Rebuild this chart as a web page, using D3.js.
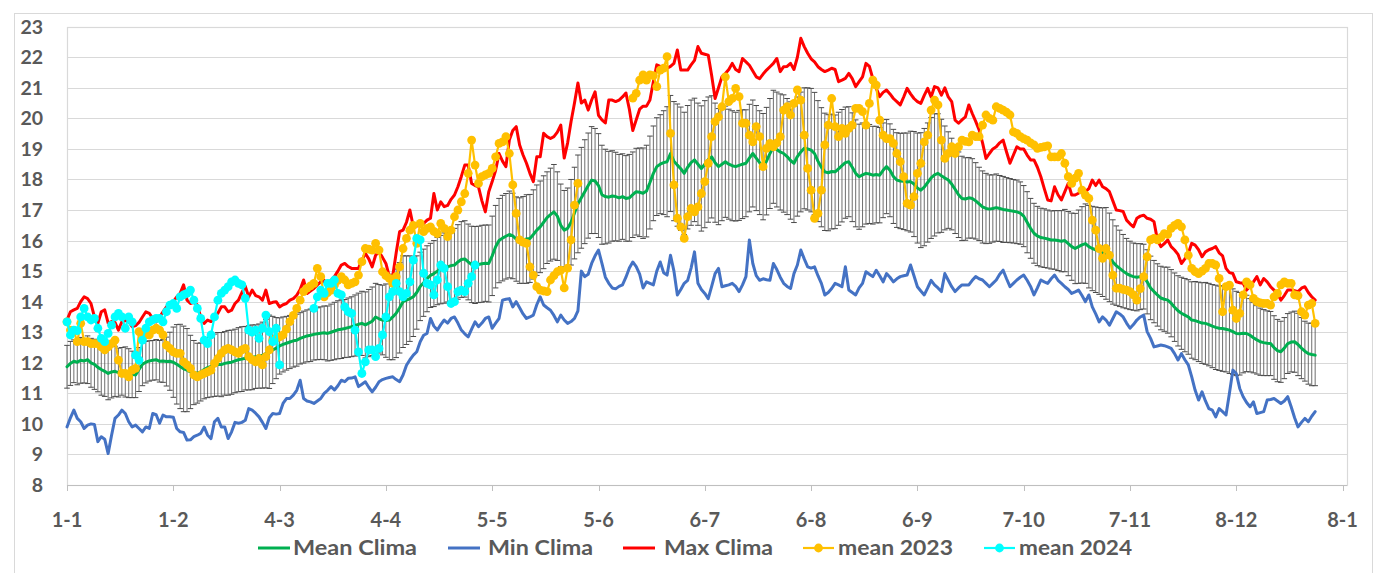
<!DOCTYPE html>
<html>
<head>
<meta charset="utf-8">
<script src="https://cdn.jsdelivr.net/npm/d3@7"></script>
<style>
  html, body { margin: 0; padding: 0; background: #fff; }
  svg { display: block; font-family: Lato, "Open Sans", sans-serif; }
</style>
</head>
<body>
<svg id="chart" width="1384" height="573"></svg>
<script>
// Daily sea temperature climatology vs 2023 / 2024, one value per day from 1 Jan

// x axis: a label every 31 days
const xTickLabels = ["1-1", "1-2", "4-3", "4-4", "5-5", "5-6", "6-7", "6-8", "6-9", "7-10", "7-11", "8-12", "8-1"]
const xTickStep = 31
const yTicks = [8, 9, 10, 11, 12, 13, 14, 15, 16, 17, 18, 19, 20, 21, 22, 23]

const seriesNames = ["Mean Clima", "Min Clima", "Max Clima", "mean 2023", "mean 2024"]

const meanClima = [
  11.87,11.98,12.05,12.02,12.08,12.06,12.10,12.00,11.95,11.85,
  11.78,11.72,11.65,11.70,11.72,11.68,11.72,11.70,11.66,11.62,
  11.60,11.78,11.95,12.02,12.06,12.08,12.10,12.05,12.06,12.04,
  12.05,12.02,11.95,11.88,11.80,11.76,11.70,11.68,11.66,11.70,
  11.78,11.84,11.88,11.92,11.95,11.94,11.98,12.00,12.02,12.06,
  12.10,12.12,12.15,12.16,12.18,12.20,12.22,12.25,12.30,12.36,
  12.42,12.48,12.55,12.60,12.64,12.68,12.72,12.74,12.80,12.84,
  12.88,12.90,12.93,12.95,12.97,12.98,12.96,13.00,13.04,13.08,
  13.10,13.12,13.15,13.18,13.22,13.26,13.29,13.24,13.30,13.36,
  13.50,13.44,13.40,13.38,13.40,13.50,13.62,13.80,14.00,14.05,
  14.10,14.16,14.30,14.50,14.62,14.75,14.86,14.92,15.00,15.05,
  15.10,15.14,15.18,15.20,15.30,15.38,15.40,15.30,15.22,15.20,
  15.22,15.24,15.26,15.25,15.50,15.80,16.00,16.08,16.14,16.20,
  16.15,16.05,16.00,16.02,16.05,16.07,16.20,16.34,16.45,16.60,
  16.75,16.85,16.94,16.80,16.50,16.34,16.40,16.60,16.90,17.20,
  17.40,17.60,17.80,17.98,17.95,17.80,17.50,17.44,17.42,17.46,
  17.44,17.40,17.44,17.38,17.40,17.50,17.60,17.58,17.55,17.62,
  17.90,18.20,18.42,18.50,18.55,18.58,18.85,18.60,18.47,18.35,
  18.20,18.40,18.55,18.64,18.50,18.36,18.50,18.65,18.74,18.55,
  18.42,18.50,18.58,18.50,18.45,18.42,18.46,18.50,18.53,18.70,
  18.85,18.70,18.55,18.42,18.60,18.85,19.07,18.98,18.90,18.85,
  18.75,18.62,18.53,18.75,18.90,19.02,19.00,18.96,18.85,18.60,
  18.40,18.25,18.22,18.26,18.25,18.35,18.45,18.55,18.58,18.40,
  18.20,18.09,18.15,18.20,18.18,18.14,18.16,18.14,18.30,18.42,
  18.30,18.10,17.98,17.95,17.94,17.92,17.93,17.85,17.72,17.65,
  17.75,17.90,18.05,18.15,18.20,18.12,18.05,17.98,17.85,17.68,
  17.50,17.38,17.36,17.40,17.38,17.30,17.20,17.10,17.05,17.03,
  17.05,17.08,17.05,17.02,17.00,16.98,16.96,16.94,16.90,16.80,
  16.60,16.40,16.24,16.15,16.10,16.08,16.05,16.02,16.02,16.00,
  15.98,16.00,15.90,15.80,15.74,15.80,15.86,15.90,15.80,15.74,
  15.70,15.66,15.62,15.58,15.45,15.30,15.18,15.09,15.00,14.92,
  14.86,14.82,14.80,14.82,14.82,14.65,14.45,14.33,14.22,14.12,
  14.08,14.05,13.95,13.82,13.70,13.62,13.56,13.50,13.40,13.38,
  13.34,13.30,13.29,13.25,13.20,13.16,13.13,13.12,13.10,13.07,
  13.02,12.96,12.95,12.97,12.96,12.90,12.82,12.75,12.69,12.66,
  12.64,12.63,12.50,12.40,12.36,12.48,12.63,12.68,12.69,12.60,
  12.48,12.38,12.30,12.27,12.25
]

// half length of the error bar on Mean Clima (standard deviation)
const stdClima = [
  0.70,0.72,0.70,0.74,0.75,0.72,0.78,0.80,0.82,0.80,
  0.84,0.82,0.86,0.85,0.82,0.80,0.78,0.82,0.80,0.76,
  0.74,0.72,0.70,0.68,0.66,0.65,0.66,0.68,0.70,0.80,
  0.95,1.15,1.30,1.38,1.40,1.36,1.20,1.05,0.98,0.95,
  0.96,0.98,1.00,1.02,1.04,1.05,1.04,1.06,1.05,1.04,
  1.05,1.06,1.04,1.05,1.06,1.04,1.05,1.08,1.12,1.20,
  1.10,1.00,0.92,0.90,0.88,0.87,0.86,0.85,0.84,0.85,
  0.85,0.86,0.84,0.85,0.86,0.88,0.90,0.92,0.94,0.95,
  0.96,0.95,0.97,0.98,1.00,1.02,1.05,1.08,1.10,1.12,
  1.10,1.12,1.14,1.20,1.30,1.40,1.45,1.48,1.50,1.45,
  1.40,1.30,1.20,1.12,1.10,1.08,1.05,1.08,1.10,1.12,
  1.15,1.15,1.18,1.20,1.22,1.24,1.25,1.24,1.25,1.26,
  1.25,1.26,1.25,1.26,1.30,1.35,1.38,1.40,1.40,1.42,
  1.40,1.38,1.40,1.42,1.45,1.44,1.46,1.48,1.50,1.52,
  1.50,1.52,1.55,1.45,1.35,1.30,1.32,1.40,1.50,1.60,
  1.65,1.70,1.72,1.75,1.72,1.70,1.62,1.55,1.50,1.48,
  1.45,1.42,1.40,1.40,1.42,1.40,1.42,1.45,1.48,1.50,
  1.52,1.55,1.60,1.62,1.70,1.80,1.90,1.95,2.00,2.02,
  2.00,2.02,2.05,2.02,2.00,2.05,2.08,2.05,2.00,1.95,
  1.90,1.85,1.82,1.80,1.80,1.78,1.80,1.78,1.75,1.76,
  1.75,1.72,1.70,1.74,1.76,1.80,1.85,1.88,1.90,1.92,
  1.90,1.92,1.94,1.95,1.96,1.98,2.00,2.02,2.00,1.98,
  1.95,1.92,1.90,1.88,1.86,1.85,1.84,1.82,1.80,1.78,
  1.75,1.72,1.70,1.66,1.62,1.60,1.58,1.56,1.55,1.54,
  1.52,1.54,1.55,1.56,1.58,1.60,1.65,1.72,1.80,1.88,
  1.92,1.95,1.98,2.00,1.95,1.85,1.70,1.58,1.50,1.45,
  1.40,1.38,1.35,1.32,1.30,1.25,1.20,1.18,1.15,1.12,
  1.10,1.10,1.08,1.08,1.06,1.05,1.04,1.04,1.02,1.00,
  1.00,0.98,0.98,0.97,0.96,0.96,0.95,0.95,0.96,0.98,
  1.00,1.02,1.05,1.10,1.15,1.20,1.25,1.30,1.35,1.38,
  1.40,1.42,1.45,1.50,1.45,1.38,1.30,1.25,1.20,1.15,
  1.12,1.10,1.10,1.08,1.06,1.05,1.04,1.02,1.02,1.04,
  1.05,1.08,1.10,1.12,1.15,1.18,1.20,1.22,1.25,1.28,
  1.30,1.32,1.34,1.35,1.36,1.38,1.38,1.40,1.40,1.42,
  1.40,1.38,1.35,1.30,1.25,1.20,1.15,1.12,1.10,1.08,
  1.06,1.05,1.04,1.02,1.00,1.00,0.98,0.98,1.00,1.02,
  1.00,0.98,1.00,1.02,1.00
]

const minClima = [
  9.90,10.20,10.45,10.18,10.07,9.85,9.96,10.00,9.98,9.42,
  9.58,9.50,9.03,9.63,10.18,10.29,10.45,10.34,10.07,9.90,
  9.96,9.85,9.74,9.90,9.85,10.34,10.30,10.02,10.29,10.23,
  10.23,10.22,9.85,9.74,9.72,9.47,9.48,9.58,9.63,9.69,
  9.90,9.63,9.52,10.07,10.18,9.90,9.90,9.52,9.74,10.05,
  10.02,10.05,10.12,10.50,10.45,10.35,10.23,10.05,9.85,10.20,
  10.34,10.32,10.34,10.67,10.83,10.83,10.94,11.10,11.43,10.83,
  10.75,10.72,10.67,10.75,10.83,11.00,11.10,11.22,11.11,11.25,
  11.43,11.38,11.49,11.50,11.54,11.22,11.30,11.38,11.20,11.05,
  11.20,11.38,11.45,11.49,11.52,11.54,11.45,11.38,11.60,11.92,
  12.10,12.25,12.36,12.69,12.90,12.96,13.45,13.20,13.07,13.25,
  13.40,13.30,13.45,13.50,13.30,13.07,12.95,12.85,13.10,13.34,
  13.18,13.30,13.45,13.50,13.13,13.30,13.45,14.05,14.08,14.10,
  13.83,14.00,13.80,13.60,13.45,13.50,13.56,13.90,14.16,13.89,
  13.80,13.72,13.55,13.34,13.56,13.40,13.29,13.35,13.45,13.70,
  15.00,14.82,14.90,15.25,15.50,15.69,15.25,14.80,14.60,14.45,
  14.42,14.50,14.55,14.80,15.10,15.30,15.15,14.90,14.45,14.65,
  14.60,14.55,15.00,15.30,14.95,14.87,15.52,15.00,14.22,14.40,
  14.60,14.70,15.10,15.63,14.60,14.40,14.27,14.10,14.50,14.92,
  15.09,14.49,14.52,14.55,14.60,14.50,14.33,14.55,14.82,16.02,
  15.25,14.85,14.70,14.75,14.72,14.70,15.25,15.05,14.80,14.60,
  14.50,14.43,14.92,15.20,15.69,15.40,15.14,15.10,15.14,14.85,
  14.60,14.22,14.30,14.43,14.60,14.55,14.49,15.14,14.38,14.30,
  14.22,14.45,14.60,14.98,14.90,14.82,15.03,14.85,14.65,14.92,
  14.80,14.65,14.75,14.82,14.85,14.87,15.20,14.85,14.49,14.35,
  14.22,14.45,14.70,14.55,14.45,14.33,14.92,14.70,14.49,14.33,
  14.45,14.55,14.55,14.55,14.70,14.82,14.75,14.71,14.60,14.49,
  14.60,14.71,14.90,15.03,14.75,14.49,14.60,14.71,14.80,14.87,
  14.70,14.50,14.22,14.45,14.71,14.65,14.60,14.75,14.87,14.70,
  14.60,14.49,14.40,14.27,14.32,14.38,14.20,14.00,14.22,13.83,
  13.60,13.34,13.50,13.40,13.23,13.45,13.67,13.60,13.50,13.30,
  13.13,13.25,13.40,13.50,13.56,13.02,12.80,12.52,12.55,12.58,
  12.56,12.52,12.47,12.30,12.09,12.30,12.10,11.93,11.54,11.10,
  10.78,11.05,10.75,10.50,10.45,10.23,10.50,10.40,10.29,11.00,
  11.76,11.65,11.16,10.89,10.70,10.56,10.72,10.34,10.37,10.40,
  10.78,10.80,10.83,10.75,10.67,10.75,10.89,10.56,10.20,9.90,
  10.05,10.18,10.07,10.25,10.40
]

const maxClima = [
  13.40,13.67,13.73,13.78,14.00,14.16,14.10,13.94,13.50,13.29,
  13.67,13.73,13.30,13.35,13.32,13.07,13.34,13.38,13.35,13.18,
  13.22,13.32,13.50,13.67,13.62,13.45,13.34,13.50,13.67,13.83,
  13.94,14.00,14.16,14.27,14.55,14.05,13.94,13.98,13.89,13.50,
  13.29,13.40,13.35,13.50,13.62,13.83,13.83,13.67,13.72,13.94,
  14.05,14.30,14.50,14.16,14.38,14.20,14.16,14.05,14.38,13.94,
  13.98,14.00,13.83,13.90,13.94,14.05,14.10,14.21,14.40,14.71,
  14.27,14.35,14.43,14.55,14.65,14.70,14.55,14.70,14.82,15.00,
  15.20,15.25,15.15,15.09,15.09,15.09,15.36,15.58,15.40,15.14,
  15.52,15.63,15.45,15.25,14.82,14.85,15.60,16.29,16.34,16.60,
  17.00,16.45,16.48,16.50,16.56,16.67,16.73,17.54,17.00,17.27,
  17.11,17.15,17.35,17.49,17.76,18.10,18.47,18.47,17.87,17.80,
  17.76,17.30,16.94,17.60,17.93,18.30,18.85,18.60,18.42,19.29,
  19.60,19.73,19.13,18.80,18.53,18.20,17.93,18.74,18.74,19.51,
  19.40,19.34,19.40,19.55,19.78,18.70,19.20,19.90,20.50,21.16,
  20.50,20.60,20.27,20.60,20.87,20.10,19.95,19.85,20.60,20.60,
  20.55,20.60,20.70,20.83,20.30,19.60,19.95,20.30,20.40,20.40,
  20.60,21.20,21.75,21.70,21.64,21.64,21.70,21.80,22.24,21.58,
  21.58,21.58,21.75,21.90,22.35,22.13,22.10,22.07,21.40,20.65,
  21.00,21.36,21.47,21.60,21.80,21.60,21.53,21.96,21.85,21.74,
  21.55,21.36,21.30,21.45,21.58,21.69,21.80,21.96,21.53,21.69,
  21.70,21.80,21.60,22.00,22.62,22.35,22.13,21.95,21.85,21.69,
  21.60,21.53,21.58,21.64,21.60,21.20,21.25,21.31,21.47,21.30,
  21.04,21.20,21.36,21.80,21.70,21.30,20.98,20.71,20.85,20.93,
  20.80,20.65,20.55,20.44,20.70,20.98,20.80,20.65,20.55,20.49,
  20.75,20.98,20.70,21.04,21.00,20.76,21.00,20.70,20.55,19.94,
  19.84,19.95,20.05,20.44,20.16,19.90,19.62,19.20,18.69,18.85,
  19.00,19.07,19.20,19.29,18.90,18.53,18.80,19.07,19.00,19.00,
  18.80,18.64,18.64,18.40,18.09,17.70,17.33,17.30,17.76,17.50,
  17.33,17.60,17.87,17.49,17.49,17.55,17.65,17.60,17.70,17.98,
  17.80,17.98,17.76,17.70,17.60,17.30,17.00,16.98,16.95,16.67,
  16.55,16.45,16.73,16.80,16.83,16.73,16.70,16.62,16.02,15.80,
  15.90,16.02,15.80,15.69,15.55,15.25,15.40,15.58,15.91,15.85,
  15.70,15.47,15.63,15.70,15.74,15.80,15.60,15.50,15.09,14.95,
  14.92,14.65,14.62,14.60,14.38,14.50,14.65,14.82,14.55,14.76,
  14.65,14.49,14.38,14.27,14.05,14.20,14.38,14.38,14.36,14.33,
  14.44,14.49,14.30,14.16,14.05
]

// null = no observation that day
const mean2023 = [
  13.34,13.07,13.02,12.69,13.29,12.69,12.69,12.63,12.63,12.63,
  12.52,12.42,12.52,12.63,12.74,12.09,11.65,11.65,11.54,11.76,
  11.82,13.02,12.96,12.91,12.91,13.07,13.13,13.07,12.91,12.58,
  12.47,12.36,12.31,12.31,12.03,11.93,11.82,11.60,11.54,11.60,
  11.65,11.70,11.76,11.98,12.14,12.31,12.42,12.47,12.42,12.36,
  12.31,12.42,12.47,12.20,12.10,12.03,12.14,11.93,12.20,12.42,
  12.74,12.80,12.85,12.91,13.10,13.35,13.55,13.78,14.05,14.33,
  14.44,14.52,14.60,15.09,14.82,14.16,14.30,14.38,14.55,14.70,
  14.82,14.71,14.55,14.60,14.65,14.87,15.31,15.74,15.72,15.69,
  15.91,15.69,14.98,14.85,14.76,14.60,14.82,15.14,15.74,16.07,
  16.34,16.50,15.91,16.56,16.29,16.40,16.45,16.30,16.23,16.56,
  16.40,16.13,16.34,16.78,17.00,17.27,17.54,18.20,19.29,18.47,
  17.87,18.09,18.15,18.20,18.36,18.74,19.18,19.23,19.40,18.85,
  17.82,16.89,16.02,15.95,15.91,15.14,14.87,14.49,14.38,14.35,
  14.33,14.71,14.85,14.98,15.03,14.45,15.10,16.02,17.16,17.87,
  null,null,null,null,null,null,null,null,null,null,
  null,null,null,null,null,20.66,20.82,21.25,21.42,21.25,
  21.42,21.40,21.04,21.58,21.64,22.02,19.51,17.82,16.73,16.45,
  16.07,16.78,17.05,16.94,17.10,17.54,17.93,18.53,19.40,19.89,
  20.05,20.38,21.36,20.55,20.65,20.98,20.71,19.84,19.84,19.45,
  19.23,19.73,19.40,18.42,19.02,19.18,19.07,19.20,19.40,20.27,
  20.38,20.11,20.49,20.93,20.60,19.45,18.36,17.65,16.73,16.89,
  17.65,19.13,19.78,20.65,19.73,19.40,19.67,19.51,19.67,19.78,
  20.33,20.33,20.22,19.78,20.49,21.25,21.09,19.94,19.45,19.34,
  19.34,19.18,18.85,18.58,18.09,17.22,17.16,17.44,18.20,18.53,
  19.23,19.45,20.27,20.60,20.44,19.29,18.69,18.85,19.07,18.85,
  19.07,19.29,19.25,19.23,19.45,19.40,19.40,19.78,20.11,20.00,
  19.94,20.38,20.33,20.27,20.20,20.11,19.56,19.51,19.40,19.34,
  19.29,19.20,19.13,19.02,19.05,19.07,19.10,18.74,18.74,18.74,
  18.85,18.53,18.09,17.87,18.04,18.20,17.65,17.49,17.38,16.67,
  16.34,15.74,15.42,15.74,15.52,14.87,14.44,14.44,14.40,14.38,
  14.33,14.22,14.05,14.43,14.82,15.47,16.02,16.07,16.02,16.10,
  16.23,16.20,16.40,16.50,16.56,16.45,16.02,15.52,15.09,14.98,
  14.92,15.00,15.09,15.25,15.25,15.20,14.76,13.67,14.49,14.54,
  13.72,13.45,13.62,14.22,14.65,14.55,14.11,14.00,13.96,13.94,
  13.94,13.89,14.16,14.27,14.55,14.65,14.60,14.60,14.22,14.20,
  13.67,13.56,13.89,13.94,13.29
]

const mean2024 = [
  13.34,12.91,13.07,13.05,13.50,13.78,13.50,13.40,13.45,13.13,
  12.80,12.69,12.96,13.23,13.50,13.62,13.50,13.13,13.50,13.34,
  12.25,12.09,12.74,13.13,13.34,13.40,13.45,13.45,13.34,13.67,
  13.89,13.94,13.78,14.16,14.22,14.27,14.38,14.05,13.78,13.45,
  12.74,12.63,12.91,13.50,14.05,14.27,14.38,14.49,14.65,14.71,
  14.60,14.55,14.11,13.07,13.00,13.07,12.80,13.13,13.56,13.02,
  12.69,13.13,11.93,null,null,null,null,null,null,null,
  null,null,13.78,14.16,14.38,14.27,14.60,14.60,14.71,14.27,
  14.22,13.83,13.67,13.62,13.07,12.36,11.65,12.03,12.42,12.42,
  12.20,12.47,12.91,13.50,14.16,14.33,14.60,14.33,14.16,14.27,
  14.65,15.36,16.07,16.02,14.93,14.60,14.55,14.22,14.71,15.20,
  15.09,14.49,13.94,14.00,14.33,14.38,14.33,14.60,14.82,15.20
]

const colors = {
  mean: "#00B050",
  min: "#4472C4",
  max: "#FF0000",
  y2023: "#FFC000",
  y2024: "#00FFFF",
  text: "#595959",
  grid: "#D9D9D9",
  errorBar: "#4a4a4a"
}

const svg = d3.select("#chart")

// plot area
const plot = { left: 67, right: 1347, top: 26.7, bottom: 485 }

const x = d3.scaleLinear()
  .domain([0, xTickStep * (xTickLabels.length - 1)])
  .range([plot.left, 1342.6])

const y = d3.scaleLinear()
  .domain([8, 23])
  .range([plot.bottom, plot.top])

// outer chart border
svg.append("rect")
  .attr("x", 14.5).attr("y", 13.5)
  .attr("width", 1358).attr("height", 575)
  .attr("fill", "none")
  .attr("stroke", colors.grid)

// gridlines
svg.append("g")
  .selectAll("line")
  .data(yTicks)
  .enter()
  .append("line")
  .attr("x1", plot.left).attr("x2", plot.right)
  .attr("y1", d => Math.round(y(d)) + 0.5)
  .attr("y2", d => Math.round(y(d)) + 0.5)
  .attr("stroke", colors.grid)
  .attr("stroke-width", 1.2)

// plot border
svg.append("rect")
  .attr("x", plot.left + 0.5).attr("y", Math.round(plot.top) + 0.5)
  .attr("width", plot.right - plot.left)
  .attr("height", Math.round(plot.bottom) - Math.round(plot.top))
  .attr("fill", "none")
  .attr("stroke", colors.grid)
  .attr("stroke-width", 1.2)

// y axis labels
svg.append("g")
  .selectAll("text")
  .data(yTicks)
  .enter()
  .append("text")
  .attr("x", 43)
  .attr("y", d => y(d))
  .attr("dy", "0.36em")
  .attr("text-anchor", "end")
  .style("font-size", "19.5px")
  .style("font-weight", "700")
  .style("fill", colors.text)
  .text(d => d)

// x axis, ticks and labels
const xTicks = xTickLabels.map((label, i) => ({ label, day: i * xTickStep }))

svg.append("line")
  .attr("x1", plot.left).attr("x2", plot.right)
  .attr("y1", Math.round(plot.bottom) + 0.5).attr("y2", Math.round(plot.bottom) + 0.5)
  .attr("stroke", "#BFBFBF")
  .attr("stroke-width", 1.2)

svg.append("g")
  .selectAll("line")
  .data(xTicks)
  .enter()
  .append("line")
  .attr("x1", d => Math.round(x(d.day)) + 0.5)
  .attr("x2", d => Math.round(x(d.day)) + 0.5)
  .attr("y1", plot.bottom)
  .attr("y2", plot.bottom + 6)
  .attr("stroke", "#BFBFBF")

svg.append("g")
  .selectAll("text")
  .data(xTicks)
  .enter()
  .append("text")
  .attr("x", d => x(d.day))
  .attr("y", 520)
  .attr("dy", "0.36em")
  .attr("text-anchor", "middle")
  .style("font-size", "20px")
  .style("font-weight", "700")
  .style("fill", colors.text)
  .text(d => d.label)

// error bars on Mean Clima
const bars = svg.append("g")
  .attr("stroke", colors.errorBar)
  .attr("stroke-width", 1)

meanClima.forEach((m, i) => {
  const cx = x(i)
  const lo = y(m - stdClima[i])
  const hi = y(m + stdClima[i])
  bars.append("line").attr("x1", cx).attr("x2", cx).attr("y1", lo).attr("y2", hi)
    .attr("stroke-opacity", 0.8)
  bars.append("line").attr("x1", cx - 2.8).attr("x2", cx + 2.8).attr("y1", lo).attr("y2", lo)
  bars.append("line").attr("x1", cx - 2.8).attr("x2", cx + 2.8).attr("y1", hi).attr("y2", hi)
})

const line = d3.line()
  .defined(d => d != null)
  .x((d, i) => x(i))
  .y(d => y(d))

function drawLine(values, color, width) {
  svg.append("path")
    .datum(values)
    .attr("fill", "none")
    .attr("stroke", color)
    .attr("stroke-width", width)
    .attr("stroke-linejoin", "round")
    .attr("stroke-linecap", "round")
    .attr("d", line)
}

function drawMarkers(values, color) {
  svg.append("g")
    .selectAll("circle")
    .data(values.map((v, i) => ({ v, i })).filter(d => d.v != null))
    .enter()
    .append("circle")
    .attr("cx", d => x(d.i))
    .attr("cy", d => y(d.v))
    .attr("r", 4.4)
    .attr("fill", color)
}

drawLine(meanClima, colors.mean, 3)
drawLine(minClima, colors.min, 3)
drawLine(maxClima, colors.max, 3)
drawLine(mean2023, colors.y2023, 2.2)
drawMarkers(mean2023, colors.y2023)
drawLine(mean2024, colors.y2024, 2.2)
drawMarkers(mean2024, colors.y2024)

// legend
const legendColors = [colors.mean, colors.min, colors.max, colors.y2023, colors.y2024]
const legendLayout = [
  { x0: 258, x1: 290, tx: 293, tw: 124 },
  { x0: 448, x1: 480, tx: 488, tw: 105 },
  { x0: 623, x1: 655, tx: 664, tw: 109 },
  { x0: 803, x1: 834, tx: 838, tw: 115 },
  { x0: 984, x1: 1015, tx: 1019, tw: 113 }
]
const legendY = 548

const legend = svg.append("g")
seriesNames.forEach((name, i) => {
  const pos = legendLayout[i]
  legend.append("line")
    .attr("x1", pos.x0).attr("x2", pos.x1)
    .attr("y1", legendY).attr("y2", legendY)
    .attr("stroke", legendColors[i])
    .attr("stroke-width", i < 3 ? 3 : 2.2)
  if (i >= 3) {
    legend.append("circle")
      .attr("cx", (pos.x0 + pos.x1) / 2)
      .attr("cy", legendY)
      .attr("r", 4.4)
      .attr("fill", legendColors[i])
  }
  legend.append("text")
    .attr("x", pos.tx)
    .attr("y", legendY)
    .attr("dy", "0.36em")
    .attr("textLength", pos.tw)
    .attr("lengthAdjust", "spacingAndGlyphs")
    .style("font-size", "20px")
    .style("font-weight", "700")
    .style("fill", colors.text)
    .text(name)
})
</script>
</body>
</html>
